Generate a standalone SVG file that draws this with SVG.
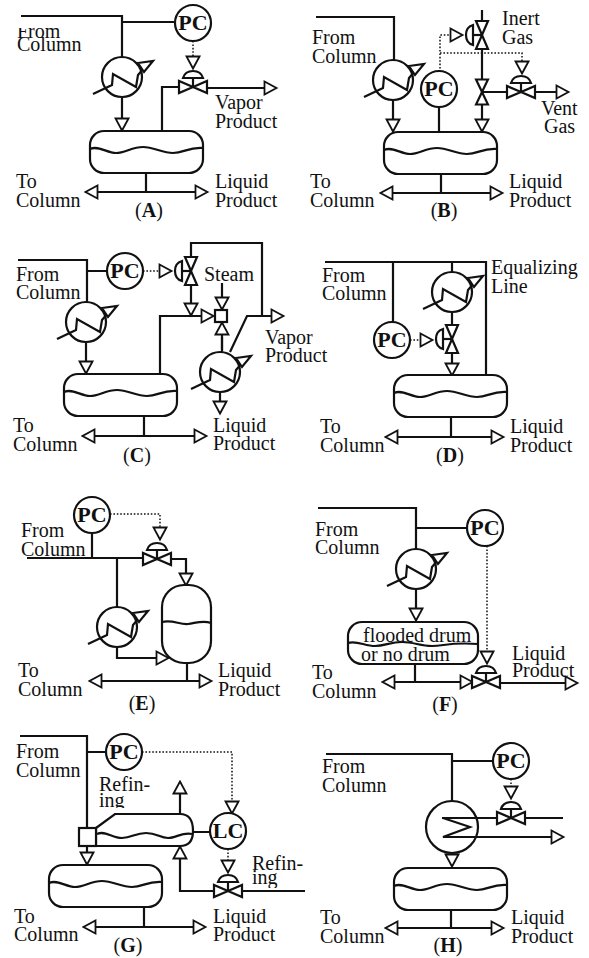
<svg xmlns="http://www.w3.org/2000/svg" width="589" height="958" viewBox="0 0 589 958">
<style>
text{font-family:"Liberation Serif","Times New Roman",serif;fill:#111}
.t{font-size:20px}
.c{font-size:20px;text-anchor:middle}
.c tspan{font-weight:bold}
.p{font-size:22px;font-weight:bold;text-anchor:middle}
.f{font-size:20px}
.l,.e,.b{fill:none;stroke:#111;stroke-width:2.2}
.e{marker-end:url(#ar)}
.b{marker-start:url(#ar);marker-end:url(#ar)}
.d{fill:none;stroke:#111;stroke-width:1.5;stroke-dasharray:1.6 1.8}
.da{marker-end:url(#ar)}
.s{fill:#fff;stroke:#111;stroke-width:2.2}
.n{fill:none;stroke:#111;stroke-width:2.2}
</style>
<defs>
<marker id="ar" markerUnits="userSpaceOnUse" markerWidth="16" markerHeight="16" refX="13.5" refY="8" orient="auto-start-reverse">
<polygon points="2,1.5 14,8 2,14.5" fill="#fff" stroke="#111" stroke-width="1.8"/>
</marker>
<clipPath id="cf"><rect x="10" y="28" width="60" height="30"/></clipPath>
<clipPath id="cg1"><rect x="90" y="790" width="60" height="18"/></clipPath>
<clipPath id="cg2"><rect x="245" y="870" width="60" height="18"/></clipPath>
<g id="x"><circle r="20" class="s"/><path class="n" d="M-29,17L-10,8L-9,-3L14,10L16,-2L22,-9"/><polygon class="s" points="16,-14 31,-16 22,-5"/></g>
<g id="dr"><rect width="113" height="42" rx="14" class="s"/><path class="n" d="M0,18C8,14 17,22 26,22S42,16 53,16S72,22 83,22S98,16 113,17"/></g>
<g id="v0"><polygon class="s" points="-14,-6 -14,6 0,0"/><polygon class="s" points="14,-6 14,6 0,0"/></g>
<g id="v"><path class="n" d="M0,0V-9"/><path class="s" d="M-10,-9Q-8,-16 0,-16Q8,-16 10,-9Z"/><use href="#v0"/></g>
</defs>
<g id="connectors">
<!-- A -->
<path class="l" d="M21,16H122V58M122,22H176M162,131V87H179M146,173V192"/>
<path class="e" d="M207,88H276"/><path class="e" d="M122,97V130"/><path class="b" d="M86,192H207"/>
<path class="d da" d="M193,41V68"/>
<!-- B -->
<path class="l" d="M316,17H394V60M439,107V132M482,10V22M482,49V80M482,92H507M441,174V193"/>
<path class="e" d="M535,92H568"/><path class="e" d="M393,100V131"/><path class="e" d="M482,105V131"/><path class="b" d="M381,193H502"/>
<path class="d da" d="M440,72V35H462"/><path class="d da" d="M440,53H522V73"/>
<!-- C -->
<path class="l" d="M18,260H87V302M87,271H107M191,257V243H262V316M230,352L247,316H262M144,417V436M222,337V352"/>
<path class="e" d="M247,316H283"/><path class="e" d="M191,285V315"/><path class="e" d="M160,373V316H213"/><path class="e" d="M222,283V309"/><path class="e" d="M222,350V323"/><path class="e" d="M220,392V413"/><path class="e" d="M86,342V373"/><path class="b" d="M83,436H206"/>
<path class="d da" d="M143,271H171"/>
<!-- D -->
<path class="l" d="M325,262H486V375M393,262V324M452,262V272M452,312V325M451,418V437"/>
<path class="e" d="M452,352V375"/><path class="b" d="M386,437H503"/>
<path class="d da" d="M410,340H432"/>
<!-- E -->
<path class="l" d="M27,558H143M92,533V558M117,558V607M187,663V681"/>
<path class="e" d="M171,559H186V585"/><path class="e" d="M117,647V658H168"/><path class="b" d="M90,681H211"/>
<path class="d da" d="M110,514H160V539"/>
<!-- F -->
<path class="l" d="M318,508H416V550M416,528H468M415,664V682"/>
<path class="e" d="M416,589V620"/><path class="b" d="M383,682H472"/><path class="e" d="M501,683H577"/>
<path class="d da" d="M487,546V663"/>
<!-- G -->
<path class="l" d="M20,736H87V828M87,752H107M192,832H210M144,908V927M243,891H305"/>
<path class="e" d="M180,814V782"/><path class="e" d="M87,846V864"/><path class="e" d="M214,891H180V847"/><path class="b" d="M84,927H205"/>
<path class="d da" d="M142,752H232V813"/><path class="d da" d="M228,849V872"/>
<!-- H -->
<path class="l" d="M326,754H452V803M452,761H494M442,818H497M526,818H563M451,910V928"/>
<path class="e" d="M442,837H563"/><path class="e" d="M452,853V866"/><path class="b" d="M386,928H503"/>
<path class="d da" d="M511,779V798"/>
</g>
<g id="a-exchanger"><use href="#x" x="122" y="77"/></g>
<g id="a-drum"><use href="#dr" x="90" y="131"/></g>
<g id="a-pc"><circle class="s" cx="193" cy="23" r="18"/><text class="p" x="193" y="30">PC</text></g>
<g id="a-valve"><use href="#v" transform="translate(193,87)"/></g>
<g id="b-exchanger"><use href="#x" x="393" y="80"/></g>
<g id="b-drum"><use href="#dr" x="384" y="132"/></g>
<g id="b-pc"><circle class="s" cx="439" cy="89" r="18"/><text class="p" x="439" y="96">PC</text></g>
<g id="b-valve-inert"><use href="#v" transform="translate(482,35) rotate(-90)"/></g>
<g id="b-valve-mid"><use href="#v0" transform="translate(482,92) rotate(90) scale(.9,1)"/></g>
<g id="b-valve-vent"><use href="#v" transform="translate(521,92)"/></g>
<g id="c-exchanger-1"><use href="#x" x="86" y="322"/></g>
<g id="c-exchanger-2"><use href="#x" x="220" y="372"/></g>
<g id="c-drum"><use href="#dr" x="64" y="374"/></g>
<g id="c-pc"><circle class="s" cx="125" cy="271" r="18"/><text class="p" x="125" y="278">PC</text></g>
<g id="c-valve"><use href="#v" transform="translate(191,271) rotate(-90)"/></g>
<g id="c-mixer"><rect class="s" x="215" y="310" width="12" height="12"/></g>
<g id="d-exchanger"><use href="#x" x="452" y="292"/></g>
<g id="d-drum"><use href="#dr" x="394" y="375"/></g>
<g id="d-pc"><circle class="s" cx="392" cy="340" r="18"/><text class="p" x="392" y="347">PC</text></g>
<g id="d-valve"><use href="#v" transform="translate(452,339) rotate(-90)"/></g>
<g id="e-exchanger"><use href="#x" x="117" y="627"/></g>
<g id="e-vessel"><rect class="s" x="162" y="585" width="49" height="78" rx="22"/><path class="n" d="M162,622C172,619 180,625 188,624S203,620 211,623"/></g>
<g id="e-pc"><circle class="s" cx="92" cy="515" r="18"/><text class="p" x="92" y="522">PC</text></g>
<g id="e-valve"><use href="#v" transform="translate(157,559)"/></g>
<g id="f-exchanger"><use href="#x" x="416" y="569"/></g>
<g id="f-drum"><rect class="s" x="348" y="622" width="130" height="42" rx="14"/><path class="n" d="M348,643C356,640 365,646 375,646S390,642 402,642S420,646 432,646S450,642 478,644"/></g>
<g id="f-pc"><circle class="s" cx="485" cy="528" r="18"/><text class="p" x="485" y="535">PC</text></g>
<g id="f-valve"><use href="#v" transform="translate(486,682)"/></g>
<g id="g-drum"><use href="#dr" x="49" y="865"/></g>
<g id="g-refiner"><path class="s" d="M96,828L115,814H180Q193,814 193,831Q193,846 180,846H96Z"/><path class="n" d="M97,834C105,830 112,838 122,838S135,833 146,833S160,838 168,838S182,832 192,834"/></g>
<g id="g-mixer"><rect class="s" x="79" y="828" width="17" height="18"/></g>
<g id="g-pc"><circle class="s" cx="124" cy="752" r="18"/><text class="p" x="124" y="759">PC</text></g>
<g id="g-lc"><circle class="s" cx="228" cy="831" r="18"/><text class="p" x="228" y="838">LC</text></g>
<g id="g-valve"><use href="#v" transform="translate(228,891)"/></g>
<g id="h-condenser"><circle class="s" cx="452" cy="827" r="26"/><path class="n" d="M442,818H478M443,818L470,827L443,837H478"/></g>
<g id="h-drum"><use href="#dr" x="394" y="868"/></g>
<g id="h-pc"><circle class="s" cx="511" cy="761" r="18"/><text class="p" x="511" y="768">PC</text></g>
<g id="h-valve"><use href="#v" transform="translate(511,818)"/></g>
<g id="labels-a" class="t">
<text x="17" y="38" clip-path="url(#cf)">From</text><text x="17" y="51">Column</text>
<text x="215" y="109">Vapor</text><text x="215" y="128">Product</text>
<text x="16" y="188">To</text><text x="16" y="207">Column</text>
<text x="215" y="188">Liquid</text><text x="215" y="207">Product</text>
<text class="c" x="149" y="217">(<tspan>A</tspan>)</text>
</g>
<g id="labels-b" class="t">
<text x="312" y="44">From</text><text x="312" y="63">Column</text>
<text x="502" y="25">Inert</text><text x="502" y="44">Gas</text>
<text x="541" y="115">Vent</text><text x="544" y="133">Gas</text>
<text x="310" y="188">To</text><text x="310" y="207">Column</text>
<text x="509" y="188">Liquid</text><text x="509" y="207">Product</text>
<text class="c" x="444" y="217">(<tspan>B</tspan>)</text>
</g>
<g id="labels-c" class="t">
<text x="16" y="281">From</text><text x="16" y="299">Column</text>
<text x="204" y="281">Steam</text>
<text x="265" y="344">Vapor</text><text x="265" y="362">Product</text>
<text x="13" y="432">To</text><text x="13" y="451">Column</text>
<text x="213" y="432">Liquid</text><text x="213" y="450">Product</text>
<text class="c" x="137" y="462">(<tspan>C</tspan>)</text>
</g>
<g id="labels-d" class="t">
<text x="322" y="282">From</text><text x="322" y="300">Column</text>
<text x="491" y="274">Equalizing</text><text x="491" y="293">Line</text>
<text x="320" y="433">To</text><text x="320" y="452">Column</text>
<text x="510" y="433">Liquid</text><text x="510" y="452">Product</text>
<text class="c" x="450" y="462">(<tspan>D</tspan>)</text>
</g>
<g id="labels-e" class="t">
<text x="21" y="537">From</text><text x="21" y="556">Column</text>
<text x="18" y="677">To</text><text x="18" y="696">Column</text>
<text x="218" y="677">Liquid</text><text x="218" y="696">Product</text>
<text class="c" x="142" y="710">(<tspan>E</tspan>)</text>
</g>
<g id="labels-f" class="t">
<text x="315" y="536">From</text><text x="315" y="554">Column</text>
<text class="f" x="363" y="642">flooded drum</text><text class="f" x="361" y="661">or no drum</text>
<text x="512" y="660">Liquid</text><text x="512" y="677">Product</text>
<text x="312" y="679">To</text><text x="312" y="698">Column</text>
<text class="c" x="445" y="711">(<tspan>F</tspan>)</text>
</g>
<g id="labels-g" class="t">
<text x="16" y="758">From</text><text x="16" y="777">Column</text>
<text x="99" y="791">Refin-</text><text x="99" y="807" clip-path="url(#cg1)">ing</text>
<text x="252" y="870">Refin-</text><text x="252" y="884" clip-path="url(#cg2)">ing</text>
<text x="14" y="923">To</text><text x="14" y="941">Column</text>
<text x="213" y="923">Liquid</text><text x="213" y="941">Product</text>
<text class="c" x="128" y="952">(<tspan>G</tspan>)</text>
</g>
<g id="labels-h" class="t">
<text x="322" y="773">From</text><text x="322" y="792">Column</text>
<text x="320" y="924">To</text><text x="320" y="943">Column</text>
<text x="511" y="924">Liquid</text><text x="511" y="943">Product</text>
<text class="c" x="448" y="952">(<tspan>H</tspan>)</text>
</g>
</svg>
